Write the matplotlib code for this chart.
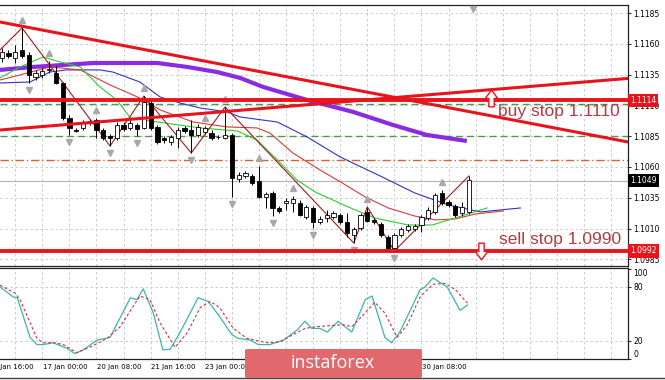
import numpy as np
import matplotlib
matplotlib.use("Agg")
from matplotlib import pyplot as plt
from matplotlib.path import Path
from matplotlib.patches import FancyBboxPatch
from matplotlib.transforms import offset_copy
from matplotlib.lines import Line2D

# EURUSD H4 candles, 16 Jan .. 30 Jan
opens = [1.11485, 1.11526, 1.11485, 1.1155, 1.11509, 1.11331, 1.11347, 1.11388, 1.11363, 1.11282,
         1.10998, 1.109, 1.10917, 1.10957, 1.10982, 1.109, 1.10852, 1.10835, 1.10941, 1.10917,
         1.10941, 1.10917, 1.1112, 1.10925, 1.10835, 1.10803, 1.10835, 1.10917, 1.109, 1.1086,
         1.10884, 1.10876, 1.10844, 1.10835, 1.1086, 1.10503, 1.10527, 1.10527, 1.10486, 1.10356,
         1.10389, 1.10267, 1.10308, 1.10308, 1.10308, 1.10194, 1.10267, 1.10153, 1.10186, 1.10194,
         1.1021, 1.10153, 1.10048, 1.10105, 1.10235, 1.1017, 1.10137, 1.10032, 1.09942, 1.10048,
         1.10088, 1.10097, 1.10129, 1.10186, 1.10235, 1.10389, 1.10316, 1.10283, 1.10226, 1.10235]
highs = [1.11566, 1.1155, 1.11591, 1.11729, 1.11534, 1.11388, 1.11404, 1.11461, 1.1142, 1.1129,
         1.11022, 1.10917, 1.10982, 1.1099, 1.10998, 1.10917, 1.10868, 1.10965, 1.10965, 1.10982,
         1.10957, 1.11176, 1.11136, 1.10941, 1.10852, 1.1086, 1.10925, 1.10933, 1.10982, 1.10949,
         1.10933, 1.109, 1.1086, 1.11087, 1.10876, 1.10559, 1.10568, 1.10543, 1.10608, 1.10397,
         1.10405, 1.10283, 1.10348, 1.10365, 1.10332, 1.10291, 1.10283, 1.10202, 1.10251, 1.10243,
         1.10226, 1.10226, 1.10113, 1.10226, 1.10275, 1.10186, 1.10153, 1.10048, 1.10064, 1.10113,
         1.10137, 1.10137, 1.1021, 1.10275, 1.10389, 1.10413, 1.10332, 1.10299, 1.10316, 1.10527]
lows = [1.11453, 1.11485, 1.11444, 1.11485, 1.11282, 1.11306, 1.11323, 1.11363, 1.11274, 1.10982,
        1.1086, 1.10884, 1.109, 1.10941, 1.10835, 1.10819, 1.1077, 1.10819, 1.10892, 1.109,
        1.10852, 1.10909, 1.109, 1.10787, 1.10795, 1.10779, 1.10754, 1.10876, 1.10714, 1.10844,
        1.10868, 1.10819, 1.10827, 1.10827, 1.10356, 1.10478, 1.10511, 1.10454, 1.10348, 1.10267,
        1.10202, 1.10226, 1.10251, 1.10235, 1.10202, 1.10178, 1.10105, 1.10137, 1.10153, 1.10178,
        1.10137, 1.10032, 1.09983, 1.10088, 1.10153, 1.10137, 1.10032, 1.09926, 1.09918, 1.10032,
        1.10072, 1.1008, 1.10072, 1.1017, 1.10218, 1.10291, 1.10275, 1.10194, 1.10202, 1.10218]
closes = [1.11534, 1.11501, 1.11534, 1.11501, 1.11347, 1.11363, 1.11379, 1.11396, 1.11282, 1.10998,
          1.10917, 1.10892, 1.10965, 1.10974, 1.109, 1.10835, 1.10835, 1.10941, 1.10909, 1.10957,
          1.10909, 1.11128, 1.10917, 1.10803, 1.10819, 1.10844, 1.109, 1.10892, 1.1086, 1.10925,
          1.10917, 1.10835, 1.1084, 1.1086, 1.10511, 1.10535, 1.10551, 1.1047, 1.10356, 1.10381,
          1.10267, 1.10243, 1.10324, 1.1034, 1.1021, 1.10275, 1.10153, 1.10178, 1.1021, 1.10226,
          1.10153, 1.10064, 1.10097, 1.1021, 1.10162, 1.10153, 1.10048, 1.09926, 1.10048, 1.10097,
          1.10121, 1.10121, 1.10194, 1.10251, 1.10373, 1.10308, 1.10291, 1.1021, 1.10275, 1.10494]

# alligator lines (bar, price)
jaw_bars = [-0.25, 4.2, 7.1, 9.6, 14.5, 16.4, 20.4, 23.4, 26.3, 29.3, 33.3, 35.2, 40.7, 45.1, 50.0,
            56.2, 61.0, 66.0, 70.7, 73.6, 76.6]
jaw_vals = [1.11282, 1.1129, 1.11371, 1.11388, 1.11388, 1.11371, 1.1129, 1.11168, 1.1112, 1.11079,
            1.11047, 1.11006, 1.10965, 1.10844, 1.10681, 1.10519, 1.10389, 1.10291, 1.10235, 1.10251,
            1.10267]
teeth_bars = [-0.25, 2.7, 7.1, 11.6, 16.0, 20.4, 23.4, 28.3, 33.3, 37.7, 39.6, 43.0, 47.0, 50.3,
              53.7, 57.1, 61.0, 64.0, 67.0, 69.9, 74.1]
teeth_vals = [1.11306, 1.11347, 1.11412, 1.11388, 1.11266, 1.1116, 1.11063, 1.10965, 1.10925,
              1.10917, 1.10876, 1.10714, 1.10576, 1.1047, 1.10356, 1.10267, 1.10202, 1.1017,
              1.10178, 1.10218, 1.10243]
lips_bars = [-0.25, 2.7, 6.1, 8.6, 11.6, 14.5, 17.0, 19.0, 23.0, 29.3, 34.8, 37.7, 40.7, 43.6,
             46.3, 51.2, 55.1, 60.0, 63.6, 67.4, 71.7]
lips_vals = [1.11323, 1.11412, 1.11493, 1.11453, 1.11412, 1.1125, 1.11144, 1.10998, 1.10965,
             1.10917, 1.10892, 1.10819, 1.10657, 1.10494, 1.10397, 1.10275, 1.10186, 1.10129,
             1.10129, 1.10194, 1.10267]
slow_ma_bars = [-0.25, 4.6, 13.5, 23.0, 27.4, 31.8, 35.2, 38.6, 45.1, 51.9, 57.8, 62.8, 68.7]
slow_ma_vals = [1.11388, 1.11412, 1.11444, 1.11444, 1.11412, 1.11371, 1.11323, 1.1125, 1.11144,
                1.11047, 1.10941, 1.1086, 1.10811]
zigzag_bars = [-0.25, 3, 16, 21, 28, 33, 52, 54, 58, 69]
zigzag_vals = [1.1155, 1.11729, 1.1077, 1.11176, 1.10714, 1.11087, 1.09983, 1.10275, 1.09918, 1.10527]

fractal_up = [3, 7, 14, 21, 30, 33, 38, 43, 54, 65]
fractal_down = [4, 10, 16, 20, 28, 34, 40, 46, 52, 58]

# drawn objects
trend_down = ([-0.25, 92.5], [1.11777, 1.10803])
trend_up = ([-0.25, 92.5], [1.109, 1.11319])
buy_level = 1.1114
sell_level = 1.0992
green_levels = [1.1111, 1.1085]
orange_level = 1.1066
bid = 1.1049

# stochastic
stoch_main_bars = [-0.25, 1.7, 2.3, 4.2, 5.2, 6.1, 7.6, 9.6, 10.8, 12.0, 14.1, 16.0, 17.5, 19.0, 20.0,
                   20.9, 22.4, 23.8, 24.9, 26.3, 29.0, 30.5, 32.2, 34.0, 34.9, 36.7, 37.9, 39.6, 41.6,
                   43.6, 44.8, 45.8, 47.0, 48.1, 49.7, 51.7, 53.7, 54.7, 56.6, 57.6, 58.8, 61.8, 62.5,
                   63.7, 65.8, 67.7, 68.8]
stoch_main = [80, 69, 68, 24, 16, 16, 18, 12, 6, 10, 21, 24, 46, 68, 66,
              78, 51, 10, 11, 29, 68, 64, 47, 27, 23, 21, 16, 16, 21,
              32, 42, 34, 34, 30, 42, 30, 66, 70, 24, 18, 30, 77, 80,
              90, 80, 54, 60]
stoch_sig_bars = [-0.25, 2.0, 2.7, 5.2, 6.1, 7.9, 9.1, 11.1, 13.0, 15.6, 17.5, 19.3, 20.4, 21.9, 23.4,
                  25.6, 27.4, 29.3, 30.8, 32.2, 34.2, 36.2, 39.2, 41.1, 43.0, 44.8, 46.6, 48.5, 50.4,
                  51.7, 53.4, 55.1, 56.6, 58.4, 59.9, 61.8, 63.7, 65.5, 67.0, 68.8]
stoch_sig = [82, 73, 66, 23, 18, 18, 16, 7, 13, 23, 36, 57, 70, 66, 40,
             13, 29, 57, 64, 57, 34, 23, 18, 19, 27, 34, 36, 37, 38,
             36, 49, 63, 51, 24, 38, 69, 83, 84, 77, 62]

price_ticks = [1.1185, 1.1160, 1.1135, 1.1110, 1.1085, 1.1060, 1.1035, 1.1010, 1.0985]
# time labels visible on the scale (the ones under the logo are not shown)
date_bars = [-2, 6, 14, 22, 30, 62]
date_labels = ["16 Jan 16:00", "17 Jan 00:00", "20 Jan 08:00", "21 Jan 16:00", "23 Jan 00:00",
               "30 Jan 08:00"]

W, H = 665, 380
fig = plt.figure(figsize=(6.65, 3.8), dpi=100)


def fx(px):
    return px / W


def fy(py):
    return 1 - py / H


ax = fig.add_axes([0, fy(266), fx(628), fy(5) - fy(266)])
ax2 = fig.add_axes([0, fy(359), fx(628), fy(268) - fy(359)])
xlim = (-0.25, 92.5)
grid_kw = dict(color="#c4c4c4", lw=0.6, ls=(0, (3, 3)), zorder=0)

for a in (ax, ax2):
    a.set_xlim(*xlim)
    a.set_xticks([])
    a.spines["left"].set_visible(False)
    for s in ("top", "right", "bottom"):
        a.spines[s].set_color("#222222")
        a.spines[s].set_linewidth(0.9)
    a.yaxis.tick_right()
    a.tick_params(axis="y", labelsize=5.5, length=2.5, width=0.6, pad=1.5)
    for b in np.arange(2, 92, 4):
        a.axvline(b, **grid_kw)

# main panel
ax.set_ylim(1.09796, 1.11915)
ax.set_yticks(price_ticks)
ax.set_yticklabels([f"{p:.4f}" for p in price_ticks])
for p in price_ticks:
    ax.axhline(p, **grid_kw)

ax.axhline(bid, color="#b4b4b4", lw=0.8, zorder=1)
for g in green_levels:
    ax.axhline(g, color="#4e9a4e", lw=1.0, ls=(0, (5, 3)), zorder=1)
ax.axhline(orange_level, color="#e0602a", lw=1.0, ls=(0, (6, 2, 1, 2)), zorder=1)

ax.plot(slow_ma_bars, slow_ma_vals, color="#8a2be2", lw=3.0, zorder=3, solid_capstyle="butt")
ax.plot(jaw_bars, jaw_vals, color="#3232c8", lw=0.8, zorder=4)
ax.plot(teeth_bars, teeth_vals, color="#d23c3c", lw=0.8, zorder=4)
ax.plot(lips_bars, lips_vals, color="#2ecc2e", lw=0.8, zorder=4)
ax.plot(zigzag_bars, zigzag_vals, color="#a01c1c", lw=0.8, zorder=4)

# candles
o = np.array(opens)
c = np.array(closes)
x = np.arange(len(o))
body_lo = np.minimum(o, c)
body_h = np.maximum(np.abs(c - o), 0.00003)
faces = np.where(c >= o, "white", "black")
ax.vlines(x, lows, highs, color="black", lw=0.7, zorder=5)
ax.bar(x, body_h, bottom=body_lo, width=0.62, color=faces, edgecolor="black", lw=0.6, zorder=6)

# fractals
tr_up = offset_copy(ax.transData, fig=fig, y=8, units="dots")
tr_dn = offset_copy(ax.transData, fig=fig, y=-7, units="dots")
ax.plot(fractal_up, [highs[i] for i in fractal_up], ls="none", marker="^", ms=4.5,
        color="#a8a8a8", transform=tr_up, zorder=7)
ax.plot(fractal_down, [lows[i] for i in fractal_down], ls="none", marker="v", ms=4.5,
        color="#a8a8a8", transform=tr_dn, zorder=7)

# trend lines and levels
ax.plot(*trend_down, color="#e8141c", lw=2.2, zorder=8)
ax.plot(*trend_up, color="#e8141c", lw=2.2, zorder=8)
ax.axhline(buy_level, color="#e8141c", lw=2.8, zorder=8)
ax.axhline(sell_level, color="#e8141c", lw=2.8, zorder=8)

up_arrow = Path([(0, 0.5), (0.38, 0.0), (0.16, 0.0), (0.16, -0.5), (-0.16, -0.5), (-0.16, 0.0),
                 (-0.38, 0.0), (0, 0.5)], closed=True)
down_arrow = Path([(0, -0.5), (0.38, 0.0), (0.16, 0.0), (0.16, 0.5), (-0.16, 0.5), (-0.16, 0.0),
                   (-0.38, 0.0), (0, -0.5)], closed=True)
ax.plot([72.3], [1.11156], marker=up_arrow, ms=12, mfc="white", mec="#e8141c", mew=1.0, zorder=9)
ax.plot([70.8], [1.09914], marker=down_arrow, ms=12, mfc="white", mec="#e8141c", mew=1.0, zorder=9)

txt_kw = dict(family="Liberation Sans", fontsize=12.5, color="#b33a46", ha="left", va="center", zorder=10)
ax.text(73.3, 1.11047, "buy stop 1.1110", **txt_kw)
ax.text(73.5, 1.10015, "sell stop 1.0990", **txt_kw)

# price tags on the scale
for val, bg in ((buy_level, "#e8141c"), (bid, "black"), (sell_level, "#e8141c")):
    ax.text(1.003, val, f"{val:.4f}", transform=ax.get_yaxis_transform(), ha="left", va="center",
            fontsize=5.5, color="white", clip_on=False, zorder=12,
            bbox=dict(boxstyle="square,pad=0.3", fc=bg, ec="none"))

ax.plot([69.6], [0.985], marker="v", ms=4, color="#a8a8a8", transform=ax.get_xaxis_transform(),
        clip_on=False, zorder=9)

# stochastic panel
ax2.set_ylim(0, 101.1)
ax2.set_yticks([0, 20, 80, 100])
ax2.set_yticklabels(["0", "20", "80", "100"])
lbls = ax2.get_yticklabels()
lbls[0].set_va("bottom")
lbls[-1].set_va("top")
for v in (20, 80):
    ax2.axhline(v, **grid_kw)
ax2.plot(stoch_main_bars, stoch_main, color="#3cb4aa", lw=0.9, zorder=4)
ax2.plot(stoch_sig_bars, stoch_sig, color="#d2323c", lw=0.8, ls=(0, (2.5, 2)), zorder=4)

for b, lab in zip(date_bars, date_labels):
    ax2.text(b + 0.1, -0.088, lab, transform=ax2.get_xaxis_transform(), ha="left", va="center",
             fontsize=5.0, color="black")

# frame line and watermark
fig.add_artist(Line2D([0, 1], [fy(378), fy(378)], transform=fig.transFigure, color="#404040", lw=1.0))
wm = FancyBboxPatch((fx(245), fy(378)), fx(177), (378 - 349) / H,
                    boxstyle="round,pad=0,rounding_size=0.004", transform=fig.transFigure,
                    fc="#e1686c", ec="none", zorder=20)
fig.add_artist(wm)
fig.text(fx(333), fy(363), "instaforex", color="white", fontsize=13, family="Open Sans",
         ha="center", va="center", zorder=21)

fig.savefig("out.png", dpi=100, facecolor="white")
